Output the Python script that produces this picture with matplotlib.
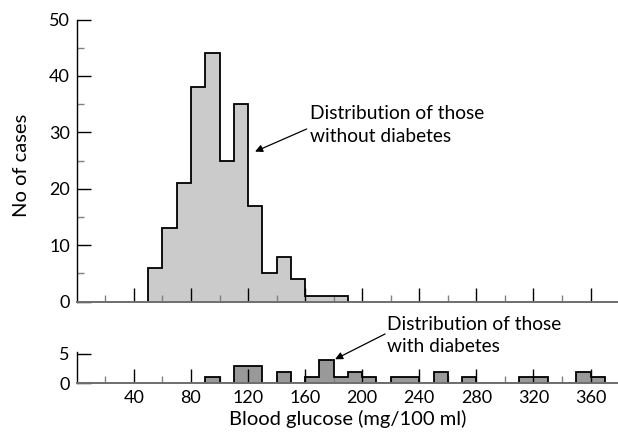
import numpy as np
import matplotlib
matplotlib.use("Agg")
import matplotlib.pyplot as plt
from matplotlib.ticker import MultipleLocator

plt.rcParams['font.family'] = ['Lato', 'DejaVu Sans']

# Bin edges (mg/100 ml) and counts
no_diab_edges = [50, 60, 70, 80, 90, 100, 110, 120, 130, 140, 150, 160, 170, 180, 190]
no_diab_counts = [6, 13, 21, 38, 44, 25, 35, 17, 5, 8, 4, 1, 1, 1]

diab_edges = [90, 100, 110, 120, 130, 140, 150, 160, 170, 180, 190, 200, 210, 220, 230,
              240, 250, 260, 270, 280, 290, 300, 310, 320, 330, 340, 350, 360, 370]
diab_counts = [1, 0, 3, 3, 0, 2, 0, 1, 4, 1, 2, 1, 0, 1, 1,
               0, 2, 0, 1, 0, 0, 0, 1, 1, 0, 0, 2, 1]

x_major = [40, 80, 120, 160, 200, 240, 280, 320, 360]
x_minor = [20, 60, 100, 140, 180, 220, 260, 300, 340]

W, H = 618, 438
fig = plt.figure(figsize=(W / 100, H / 100), dpi=100)

x0 = 76.8 / W
ax_top = fig.add_axes([x0, 1 - 301.7 / H, 1 - x0, (301.7 - 19.5) / H])
ax_bot = fig.add_axes([x0, 1 - 383.3 / H, 1 - x0, 5.4 * 5.87 / H])

xmax = (W - 76.8) / 1.427


def style_axes(ax):
    ax.set_xlim(0, xmax)
    for s in ['top', 'right']:
        ax.spines[s].set_visible(False)
    ax.spines['left'].set_color('black')
    ax.spines['left'].set_linewidth(1.0)
    ax.spines['bottom'].set_color('#6e6e6e')
    ax.spines['bottom'].set_linewidth(1.4)
    ax.spines['bottom'].set_zorder(3)
    ax.set_xticks(x_major)
    ax.set_xticks(x_minor, minor=True)
    ax.tick_params(axis='x', which='major', direction='in', length=10, width=1.0,
                   color='black', labelsize=13, pad=5)
    ax.tick_params(axis='x', which='minor', direction='in', length=5, width=1.0,
                   color='#808080')
    ax.tick_params(axis='y', which='major', direction='in', length=10, width=1.0,
                   color='black', labelsize=13, pad=5)
    ax.tick_params(axis='y', which='minor', direction='in', length=5, width=1.0,
                   color='#808080')
    for t in ax.xaxis.get_ticklines(minor=True) + ax.xaxis.get_ticklines():
        t.set_zorder(4)


# top panel: without diabetes
style_axes(ax_top)
ax_top.stairs(no_diab_counts, no_diab_edges, fill=True, color='#cbcbcb', zorder=1)
ax_top.stairs(no_diab_counts, no_diab_edges, baseline=0, color='black', lw=1.3, zorder=2)
ax_top.set_ylim(0, 50)
ax_top.set_yticks([0, 10, 20, 30, 40, 50])
ax_top.yaxis.set_minor_locator(MultipleLocator(5))
ax_top.tick_params(axis='x', labelbottom=False)

ax_top.text(163.4, 32.3, 'Distribution of those', fontsize=13.8, ha='left', va='baseline')
ax_top.text(163.4, 28.3, 'without diabetes', fontsize=13.8, ha='left', va='baseline')
ax_top.annotate('', xy=(124.9, 26.6), xytext=(161.1, 30.6),
                arrowprops=dict(arrowstyle='-|>', color='black', lw=0.9,
                                mutation_scale=11, shrinkA=0, shrinkB=0))

# bottom panel: with diabetes
style_axes(ax_bot)
ax_bot.stairs(diab_counts, diab_edges, fill=True, color='#999999', zorder=1)
ax_bot.stairs(diab_counts, diab_edges, baseline=0, color='black', lw=1.3, zorder=2)
ax_bot.set_ylim(0, 5.4)
ax_bot.set_yticks([0, 5])
ax_bot.set_xlabel('Blood glucose (mg/100 ml)', fontsize=14.5, labelpad=3)

ax_bot.text(217.4, 9.08, 'Distribution of those', fontsize=13.8, ha='left', va='baseline',
            clip_on=False)
ax_bot.text(217.4, 5.33, 'with diabetes', fontsize=13.8, ha='left', va='baseline',
            clip_on=False)
ax_bot.annotate('', xy=(181, 4.1), xytext=(216, 8.4),
                arrowprops=dict(arrowstyle='-|>', color='black', lw=0.9,
                                mutation_scale=11, shrinkA=0, shrinkB=0),
                annotation_clip=False)

fig.text(22 / W, 1 - 165 / H, 'No of cases', rotation=90, fontsize=14.5,
         ha='center', va='center')

fig.savefig('out.png', dpi=100)
